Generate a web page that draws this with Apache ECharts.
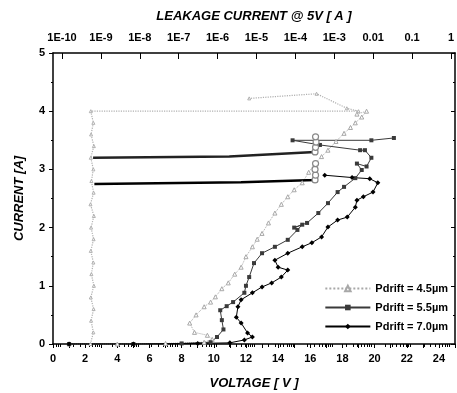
<!DOCTYPE html>
<html><head><meta charset="utf-8">
<script src="https://cdn.jsdelivr.net/npm/echarts@6/dist/echarts.min.js"></script>
<style>html,body{margin:0;padding:0;background:#fff}#c{width:457px;height:393px}</style>
</head><body><div id="c"></div>
<script>
// ---- data ----
const seriesNames = ['Pdrift = 4.5µm', 'Pdrift = 5.5µm', 'Pdrift = 7.0µm'];
const voltageLabels = [0, 2, 4, 6, 8, 10, 12, 14, 16, 18, 20, 22, 24];
const leakDecades = [-10, -9, -8, -7, -6, -5, -4, -3, -2, -1, 0];
const leakLabels = ['1E-10', '1E-9', '1E-8', '1E-7', '1E-6', '1E-5', '1E-4', '1E-3', '0.01', '0.1', '1'];

// TLP I-V curves: [voltage V, current A]
const tlp45 = [[1.0,0.0],[4.0,0.0],[7.0,0.01],[9.4,0.03],[9.9,0.08],[9.6,0.15],[8.8,0.2],[8.5,0.36],[8.9,0.5],[9.4,0.64],[9.8,0.72],[10.1,0.81],[10.5,0.95],[10.9,1.05],[11.3,1.2],[11.7,1.32],[12.0,1.5],[12.4,1.67],[12.7,1.8],[13.0,1.9],[13.4,2.08],[13.8,2.25],[14.2,2.4],[14.6,2.53],[15.0,2.65],[15.5,2.77],[15.9,2.95],[16.3,3.1],[16.7,3.22],[17.1,3.33],[17.6,3.48],[18.1,3.62],[18.5,3.72],[18.8,3.8],[19.2,3.9],[19.5,4.0],[18.9,3.95]];
const tlp55 = [[1.0,0.0],[5.0,0.0],[8.0,0.01],[9.8,0.03],[10.2,0.12],[10.6,0.25],[10.5,0.41],[10.4,0.58],[10.8,0.65],[11.2,0.72],[11.9,0.88],[12.0,1.0],[12.2,1.15],[12.5,1.39],[13.0,1.56],[13.8,1.67],[14.6,1.79],[15.2,1.96],[15.5,2.05],[15.0,2.0],[15.8,2.08],[16.5,2.25],[17.1,2.42],[17.7,2.61],[18.1,2.7],[18.8,2.85],[19.2,2.99],[18.9,3.1],[19.5,3.05],[19.8,3.2],[19.4,3.33],[19.1,3.33],[16.6,3.42],[14.9,3.5],[19.8,3.5],[21.2,3.54]];
const tlp70 = [[1.0,0.0],[5.0,0.0],[9.0,0.01],[11.0,0.02],[11.9,0.07],[12.4,0.12],[12.1,0.19],[11.7,0.36],[11.4,0.46],[11.5,0.64],[11.7,0.76],[12.4,0.88],[13.0,0.98],[13.6,1.05],[14.2,1.15],[14.6,1.27],[14.0,1.32],[13.8,1.44],[14.6,1.56],[15.5,1.67],[16.1,1.74],[16.7,1.84],[17.1,2.01],[17.7,2.13],[18.3,2.18],[18.8,2.35],[18.9,2.47],[19.3,2.53],[19.9,2.61],[20.2,2.77],[19.7,2.84],[18.6,2.86],[16.9,2.9]];

// Leakage current @5V after each pulse: [leakage A, current A]
const leak45 = [[5.4e-10,0],[6.4e-10,0.2],[5.6e-10,0.4],[6.5e-10,0.6],[5.5e-10,0.8],[6.6e-10,1.0],[5.7e-10,1.2],[6.4e-10,1.4],[5.5e-10,1.6],[6.5e-10,1.8],[5.6e-10,2.0],[6.6e-10,2.2],[5.4e-10,2.4],[6.5e-10,2.6],[5.7e-10,2.8],[6.4e-10,3.0],[5.5e-10,3.2],[6.6e-10,3.4],[5.6e-10,3.6],[6.4e-10,3.8],[5.5e-10,4.0],[4.2e-3,4.0],[2.1e-3,4.05],[3.5e-4,4.3],[6.5e-6,4.22]];
const leak55 = [[6.3e-10,3.2],[2.0e-6,3.22],[3.2e-4,3.3],[3.3e-4,3.38],[3.4e-4,3.47],[3.3e-4,3.56]];
const leak70 = [[6.8e-10,2.75],[4.0e-6,2.78],[3.2e-4,2.82],[3.3e-4,2.9],[3.2e-4,3.0],[3.3e-4,3.1]];

// ---- chart ----
const LMIN = -10.231, LMAX = 0.103;
const minorLeak = [];
for (let n = -11; n <= 0; n++) for (let k = 2; k <= 9; k++) {
  const v = n + Math.log10(k);
  if (v > LMIN && v < LMAX) minorLeak.push(v);
}
const toLog = arr => arr.map(p => [Math.log10(p[0]), p[1]]);
const FONT = 'Liberation Sans';
const axisLineStyle = { color: '#000', width: 1.5 };
const tickLabel = { color: '#000', fontSize: 11, fontWeight: 'bold', fontFamily: FONT };
const nameStyle = { color: '#000', fontSize: 13, fontWeight: 'bold', fontStyle: 'italic', fontFamily: FONT };

const chart = echarts.init(document.getElementById('c'), null, { renderer: 'canvas' });
chart.setOption({
  animation: false,
  backgroundColor: '#fff',
  textStyle: { fontFamily: FONT },
  grid: { left: 53, right: 2, top: 53, bottom: 49, outerBoundsMode: 'none', containLabel: false },
  legend: {
    data: seriesNames, orient: 'vertical', right: 4, top: 278,
    itemWidth: 45, itemHeight: 7, itemGap: 8,
    textStyle: { color: '#000', fontSize: 11, fontWeight: 'bold', fontFamily: FONT }
  },
  xAxis: [
    { type: 'value', position: 'bottom', min: 0, max: 25, interval: 1,
      axisLine: { onZero: false, lineStyle: axisLineStyle },
      axisTick: { length: 4, lineStyle: { color: '#000' } },
      axisLabel: Object.assign({ margin: 9, formatter: v => voltageLabels.indexOf(v) >= 0 ? String(v) : '' }, tickLabel),
      splitLine: { show: false },
      name: 'VOLTAGE [ V ]', nameLocation: 'middle', nameGap: 33, nameTextStyle: nameStyle },
    { type: 'value', position: 'top', min: LMIN, max: LMAX,
      axisLine: { onZero: false, lineStyle: axisLineStyle },
      axisTick: { inside: true, length: 6, customValues: leakDecades, lineStyle: { color: '#000' } },
      axisLabel: Object.assign({ margin: 10, customValues: leakDecades,
        formatter: v => leakLabels[leakDecades.indexOf(Math.round(v))] }, tickLabel),
      splitLine: { show: false },
      name: 'LEAKAGE CURRENT @ 5V [ A ]', nameLocation: 'middle', nameGap: 30, nameTextStyle: nameStyle },
    { type: 'value', position: 'top', min: LMIN, max: LMAX,
      axisLine: { show: false },
      axisTick: { inside: true, length: 3, customValues: minorLeak, lineStyle: { color: '#000' } },
      axisLabel: { show: false }, splitLine: { show: false } }
  ],
  yAxis: [
    { type: 'value', position: 'left', min: 0, max: 5, interval: 1,
      axisLine: { onZero: false, lineStyle: axisLineStyle },
      axisTick: { length: 4, lineStyle: { color: '#000' } },
      minorTick: { show: true, splitNumber: 2, length: 2, lineStyle: { color: '#000' } },
      axisLabel: Object.assign({ margin: 8 }, tickLabel),
      splitLine: { show: false },
      name: 'CURRENT [A]', nameLocation: 'middle', nameGap: 27, nameTextStyle: nameStyle },
    { type: 'value', position: 'right', min: 0, max: 5, interval: 1,
      axisLine: { onZero: false, lineStyle: axisLineStyle },
      axisTick: { inside: true, length: 4, lineStyle: { color: '#000' } },
      minorTick: { show: true, splitNumber: 2, length: 2, lineStyle: { color: '#000' } },
      axisLabel: { show: false }, splitLine: { show: false } }
  ],
  series: [
    { name: seriesNames[0], type: 'line', xAxisIndex: 0, yAxisIndex: 0, data: tlp45,
      symbol: 'triangle', symbolSize: 4, color: '#a8a8a8',
      itemStyle: { color: '#fff', borderColor: '#a8a8a8', borderWidth: 1 },
      lineStyle: { color: '#a8a8a8', width: 1, type: 'dotted' } },
    { name: seriesNames[1], type: 'line', xAxisIndex: 0, yAxisIndex: 0, data: tlp55,
      symbol: 'rect', symbolSize: 4, color: '#3a3a3a',
      itemStyle: { color: '#3a3a3a' },
      lineStyle: { color: '#3a3a3a', width: 1 } },
    { name: seriesNames[2], type: 'line', xAxisIndex: 0, yAxisIndex: 0, data: tlp70,
      symbol: 'diamond', symbolSize: 5, color: '#000',
      itemStyle: { color: '#000' },
      lineStyle: { color: '#000', width: 1 } },
    { name: 'leak45', type: 'line', xAxisIndex: 1, yAxisIndex: 0, data: toLog(leak45),
      symbol: 'triangle', symbolSize: 3,
      itemStyle: { color: '#fff', borderColor: '#b0b0b0', borderWidth: 1 },
      lineStyle: { color: '#b0b0b0', width: 1.2, type: 'dotted' } },
    { name: 'leak55', type: 'line', xAxisIndex: 1, yAxisIndex: 0, data: toLog(leak55),
      symbol: 'circle', symbolSize: (v, p) => p.dataIndex < 2 ? 0 : 6,
      itemStyle: { color: '#fff', borderColor: '#888', borderWidth: 1.2 },
      lineStyle: { color: '#222', width: 2.5 } },
    { name: 'leak70', type: 'line', xAxisIndex: 1, yAxisIndex: 0, data: toLog(leak70),
      symbol: 'circle', symbolSize: (v, p) => p.dataIndex < 2 ? 0 : 6,
      itemStyle: { color: '#fff', borderColor: '#888', borderWidth: 1.2 },
      lineStyle: { color: '#000', width: 2.5 } }
  ]
});
</script>
</body></html>
